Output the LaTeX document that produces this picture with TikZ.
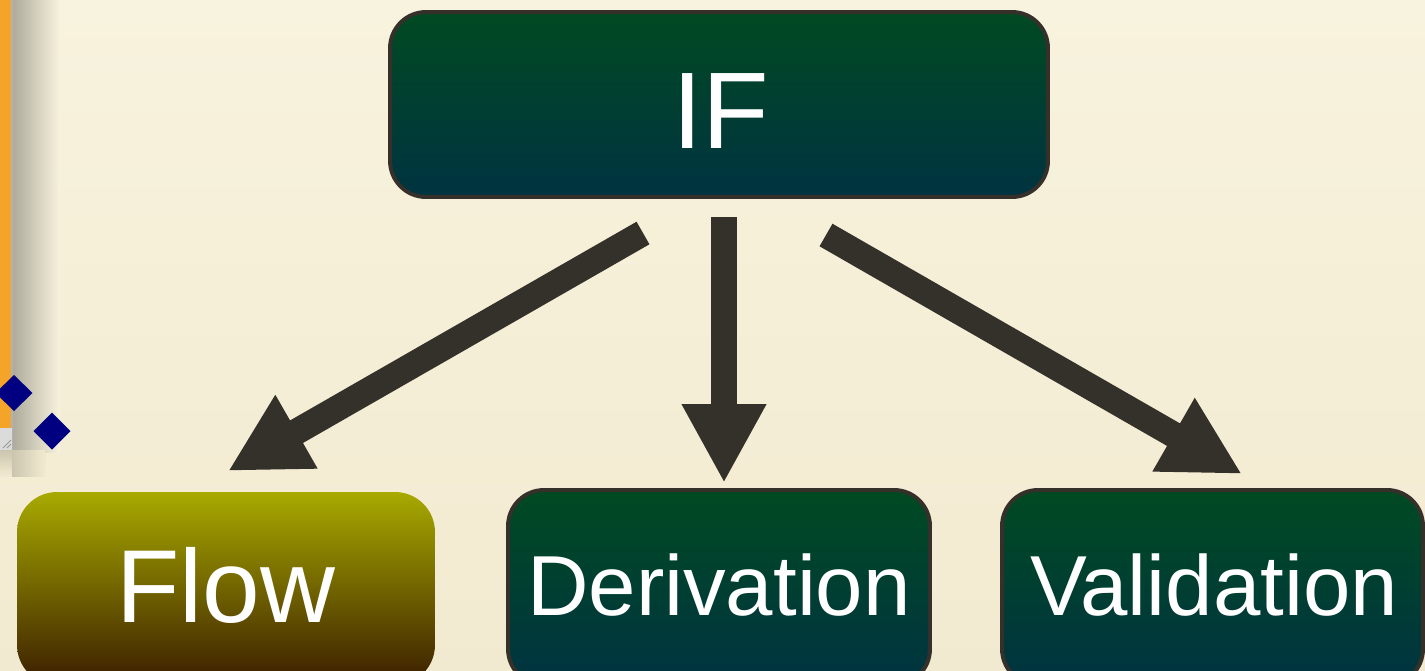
\documentclass[tikz,border=0pt]{standalone}
\usepackage{fontspec}
\setmainfont{Liberation Sans}
\usetikzlibrary{arrows.meta}
\definecolor{bgtop}{HTML}{F8F3DE}
\definecolor{bgbot}{HTML}{F2EAD0}
\definecolor{gtop}{HTML}{004A22}
\definecolor{gbot}{HTML}{003341}
\definecolor{ftop}{HTML}{A8AA00}
\definecolor{fmid}{HTML}{7E7800}
\definecolor{fbot}{HTML}{3A1D00}
\definecolor{edge}{HTML}{35312A}
\definecolor{arr}{HTML}{34302A}
\definecolor{orng}{HTML}{F5A42A}
\definecolor{navy}{HTML}{000080}
\tikzset{
  greenbox/.style={rectangle, rounded corners=0.72cm, draw=edge, line width=0.08cm,
    top color=gtop, bottom color=gbot, inner sep=0pt},
  flowbox/.style={rectangle, rounded corners=0.8cm, draw=none,
    top color=ftop, middle color=fmid, bottom color=fbot, inner sep=0pt},
  lbl/.style={anchor=base, text=white, inner sep=0pt},
  bigarrow/.style={draw=arr, line width=0.52cm,
    -{Triangle[length=1.58cm,width=1.58cm]}},
}
\begin{document}
\begin{tikzpicture}[x=0.02cm,y=-0.02cm]
\useasboundingbox (0,0) rectangle (1425,670);
\clip (0,0) rectangle (1425,670);
% background
\shade[top color=bgtop, bottom color=bgbot] (0,0) rectangle (1425,670);
% window shadow and orange bar
\shade[left color=black!30!bgtop, right color=bgtop] (12,0) rectangle (60,452);
\shade[top color=black!16!bgbot, bottom color=bgbot] (0,450) rectangle (45,476);
\shade[left color=black!16!bgbot, right color=bgbot] (12,450) rectangle (45,476);
\fill[orng] (0,0) rectangle (12,428);
\fill[black!30] (11,0) rectangle (13,450);
\fill[black!14] (0,428) rectangle (12,450);
\draw[black!40, line width=0.02cm] (3,448) -- (11,440) (7,448) -- (11,444);
% diamonds
\fill[navy] (14,375) -- (32.5,393) -- (14,411) -- (-4.5,393) -- cycle;
\fill[navy] (52,412.5) -- (70.5,431) -- (52,449.5) -- (33.5,431) -- cycle;
% boxes
\node[greenbox, minimum width=13.16cm, minimum height=3.7cm] (IF) at (719,104.5) {};
\node[flowbox, minimum width=8.36cm, minimum height=3.86cm] (Flow) at (226,588.5) {};
\node[greenbox, minimum width=8.44cm, minimum height=3.9cm] (Der) at (719,587.5) {};
\node[greenbox, minimum width=8.42cm, minimum height=3.9cm] (Val) at (1212.5,587.5) {};
% labels
\node[lbl, font=\fontsize{62}{68}\selectfont] (IFt) at (721,148) {IF};
\node[lbl, font=\fontsize{59}{65}\selectfont] (Flowt) at (226,622) {Flow};
\node[lbl, font=\fontsize{48.5}{54}\selectfont] (Dert) at (719,615) {Derivation};
\node[lbl, font=\fontsize{48.5}{54}\selectfont] (Valt) at (1214,615) {Validation};
% arrow end points
\coordinate (aLs) at (643,233);
\coordinate (aLe) at (228,471);
\coordinate (aMs) at (724,217);
\coordinate (aMe) at (724,483);
\coordinate (aRs) at (826,235);
\coordinate (aRe) at (1242,474);
\draw[bigarrow] (aLs) -- (aLe);
\draw[bigarrow] (aMs) -- (aMe);
\draw[bigarrow] (aRs) -- (aRe);
\end{tikzpicture}
\end{document}
